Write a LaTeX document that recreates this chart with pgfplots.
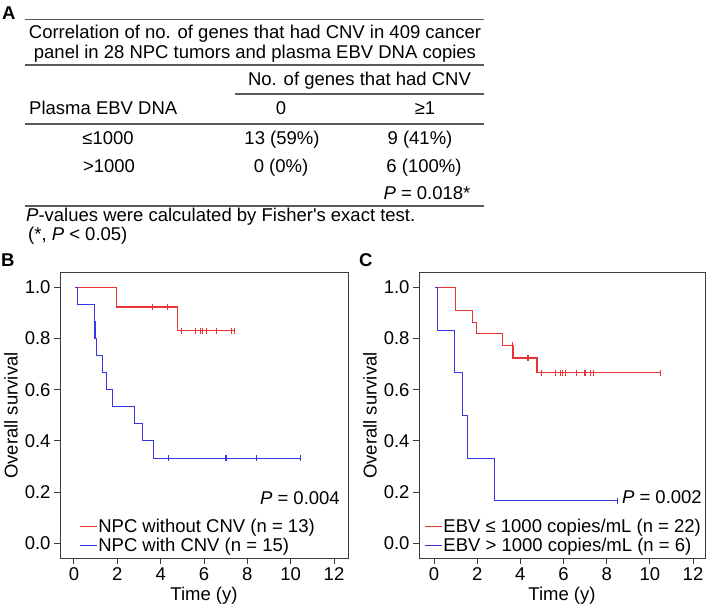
\documentclass[border=0pt]{standalone}
\usepackage{fontspec}
\setmainfont{Liberation Sans}
\usepackage{pgfplots}
\pgfplotsset{compat=1.18}

\definecolor{kmred}{RGB}{230,50,50}
\definecolor{kmblue}{RGB}{55,55,225}
\definecolor{framegray}{RGB}{60,60,60}
\definecolor{rulegray}{RGB}{90,90,90}
\newcommand\fs{\fontsize{18.5bp}{22bp}\selectfont}

\pgfplotsset{
  km/.style={
    scale only axis, height=285bp,
    ymin=-0.0574, ymax=1.0559,
    xtick={0,2,...,12}, ytick={0,0.2,0.4,0.6,0.8,1.0},
    yticklabel style={/pgf/number format/fixed,
      /pgf/number format/fixed zerofill,
      /pgf/number format/precision=1},
    /pgf/number format/assume math mode=true,
    tick label style={font=\fs, text=black},
    label style={font=\fs},
    xlabel={Time (y)}, ylabel={Overall survival},
    axis line style={draw=framegray, line width=1bp},
    tick style={draw=framegray, line width=1bp},
    tick align=outside, major tick length=6bp,
    xtick pos=left, ytick pos=left,
    legend style={draw=none, fill=none, font=\fs, inner sep=0pt,
      row sep=4.6bp, nodes={inner xsep=1bp, inner ysep=0pt}},
    legend cell align=left,
    legend image code/.code={\draw[#1] (0bp,0bp) -- (17bp,0bp);},
  },
  kmline/.style={line width=1.1bp, const plot, mark=none},
  cens/.style={only marks, mark=|, mark size=3bp,
    mark options={line width=1bp}, forget plot},
}

\begin{document}
\begin{tikzpicture}
\useasboundingbox (0,0) rectangle (709bp,610bp);

% panel A: table
\begin{scope}[every node/.style={inner sep=0pt, font=\fs}]
\node[anchor=base west, font=\fs\bfseries] at (2bp,590.4bp) {A};
\draw[rulegray, line width=1.5bp] (25bp,590.7bp) -- (484bp,590.7bp);
\node[anchor=base] at (255bp,571.4bp) {Correlation of no. of genes that had CNV in 409 cancer};
\node[anchor=base] at (255bp,551.4bp) {panel in 28 NPC tumors and plasma EBV DNA copies};
\draw[rulegray, line width=1.5bp] (25bp,545bp) -- (484bp,545bp);
\node[anchor=base] at (359.5bp,524.4bp) {No. of genes that had CNV};
\draw[rulegray, line width=1.5bp] (235bp,516bp) -- (484bp,516bp);
\node[anchor=base west] at (29bp,495.4bp) {Plasma EBV DNA};
\node[anchor=base] at (281bp,495.4bp) {0};
\node[anchor=base] at (425bp,495.4bp) {≥1};
\draw[rulegray, line width=1.5bp] (25bp,486bp) -- (484bp,486bp);
\node[anchor=base] at (108bp,465.4bp) {≤1000};
\node[anchor=base] at (282bp,465.4bp) {13 (59\%)};
\node[anchor=base] at (420bp,465.4bp) {9 (41\%)};
\node[anchor=base] at (109bp,437.4bp) {>1000};
\node[anchor=base] at (281bp,437.4bp) {0 (0\%)};
\node[anchor=base] at (424bp,437.4bp) {6 (100\%)};
\node[anchor=base] at (427bp,410.4bp) {\textit{P} = 0.018*};
\draw[rulegray, line width=1.5bp] (25bp,404bp) -- (484bp,404bp);
\node[anchor=base west] at (26bp,388bp) {\textit{P}-values were calculated by Fisher\textquotesingle s exact test.};
\node[anchor=base west] at (28bp,369.4bp) {(*, \textit{P} < 0.05)};
\node[anchor=base west, font=\fs\bfseries] at (1bp,343.4bp) {B};
\node[anchor=base west, font=\fs\bfseries] at (359bp,343.4bp) {C};
\node[anchor=base east] at (340bp,105.5bp) {\textit{P} = 0.004};
\node[anchor=base east] at (702bp,106bp) {\textit{P} = 0.002};
\end{scope}

% panel B
\begin{axis}[km, at={(60bp,52bp)}, anchor=south west, width=288bp,
  xmin=-0.646, xmax=12.646,
  legend style={at={(0.066,0.016)}, anchor=south west}]
\addplot[kmred, kmline] coordinates {
  (0.1,1) (1.97,0.923) (4.76,0.831) (7.4,0.831)};
\addlegendentry{NPC without CNV (n = 13)}
\addplot[kmred, cens] coordinates {
  (3.61,0.923) (4.33,0.923) (4.96,0.831) (5.62,0.831) (5.84,0.831)
  (5.95,0.831) (6.1,0.831) (6.59,0.831) (7.27,0.831) (7.4,0.831)};
\addplot[kmblue, kmline] coordinates {
  (0.05,1) (0.15,0.933) (0.93,0.867) (0.97,0.8) (1.02,0.733) (1.3,0.667)
  (1.52,0.6) (1.77,0.533) (2.81,0.467) (3.17,0.4) (3.65,0.333) (10.45,0.333)};
\addlegendentry{NPC with CNV (n = 15)}
\addplot[kmblue, cens] coordinates {
  (4.38,0.333) (6.97,0.333) (7.02,0.333) (8.43,0.333) (10.45,0.333)};
\end{axis}

% panel C
\begin{axis}[km, at={(419bp,52bp)}, anchor=south west, width=286bp,
  xmin=-0.695, xmax=12.556,
  legend style={at={(0.018,0.016)}, anchor=south west}]
\addplot[kmred, kmline] coordinates {
  (0.15,1) (1.0,0.909) (1.78,0.864) (1.95,0.818) (3.17,0.773) (3.66,0.724)
  (4.77,0.667) (10.5,0.667)};
\addlegendentry{EBV ≤ 1000 copies/mL (n = 22)}
\addplot[kmred, cens] coordinates {
  (3.63,0.773) (4.32,0.724) (4.36,0.724) (4.99,0.667) (5.63,0.667)
  (5.85,0.667) (5.95,0.667) (6.1,0.667) (6.6,0.667) (6.98,0.667)
  (7.02,0.667) (7.27,0.667) (7.4,0.667) (10.5,0.667)};
\addplot[kmblue, kmline] coordinates {
  (0.05,1) (0.15,0.833) (0.94,0.667) (1.31,0.5) (1.54,0.333) (2.82,0.167)
  (8.49,0.167)};
\addlegendentry{EBV > 1000 copies/mL (n = 6)}
\addplot[kmblue, cens] coordinates {(8.49,0.167)};
\end{axis}
\end{tikzpicture}
\end{document}
